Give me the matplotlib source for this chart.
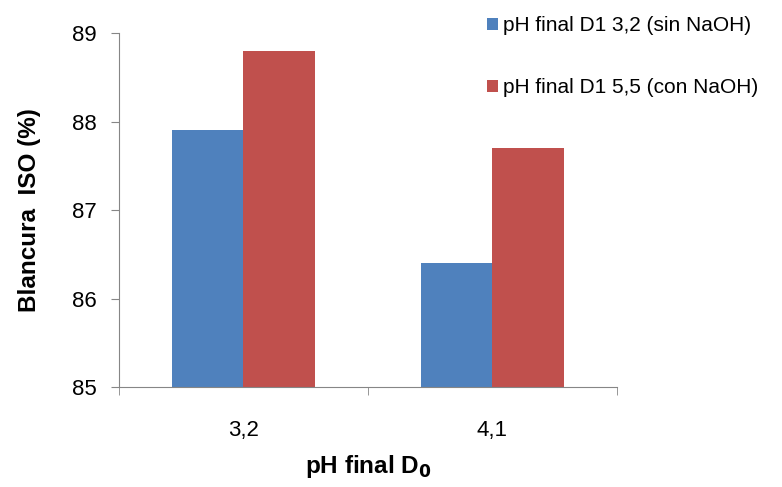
import numpy as np
import matplotlib.pyplot as plt

plt.rcParams['font.family'] = ['Liberation Sans', 'DejaVu Sans']

categorias = ['3,2', '4,1']
sin_naoh = [87.9, 86.4]
con_naoh = [88.8, 87.7]
series = ['pH final D1 3,2 (sin NaOH)', 'pH final D1 5,5 (con NaOH)']
colores = ['#4F81BD', '#C0504D']

fig = plt.figure(figsize=(7.82, 4.87), dpi=100)
ax = fig.add_axes([0.152, 0.205, 0.637, 0.727])

x = np.arange(len(categorias))
w = 0.287
b1 = ax.bar(x - w/2, np.array(sin_naoh) - 85, w, bottom=85, color=colores[0], label=series[0])
b2 = ax.bar(x + w/2, np.array(con_naoh) - 85, w, bottom=85, color=colores[1], label=series[1])

ax.set_xlim(-0.5, 1.5)
ax.set_ylim(85, 89)
ax.set_yticks([85, 86, 87, 88, 89])
ax.set_xticks(x)
ax.set_xticklabels(categorias)
ax.set_xticks([-0.5, 0.5, 1.5], minor=True)
ax.tick_params(axis='x', which='major', length=0, pad=24, labelsize=16)
ax.tick_params(axis='x', which='minor', length=6, color='#868686', direction='out')
ax.tick_params(axis='y', length=6, color='#868686', direction='out', pad=10, labelsize=16)

for s in ['top', 'right']:
    ax.spines[s].set_visible(False)
for s in ['left', 'bottom']:
    ax.spines[s].set_color('#868686')

ax.set_ylabel('Blancura  ISO (%)', fontsize=17.5, fontweight='bold', labelpad=22)
ax.set_xlabel('pH final D$_\\mathbf{0}$', fontsize=17.5, fontweight='bold', labelpad=8)

fig.legend(handles=[b1, b2], loc='upper left', bbox_to_anchor=(0.599, 1.005),
           frameon=False, fontsize=15, handlelength=0.5, handleheight=0.5,
           handletextpad=0.25, labelspacing=2.05)

fig.savefig('out.png', dpi=100)
